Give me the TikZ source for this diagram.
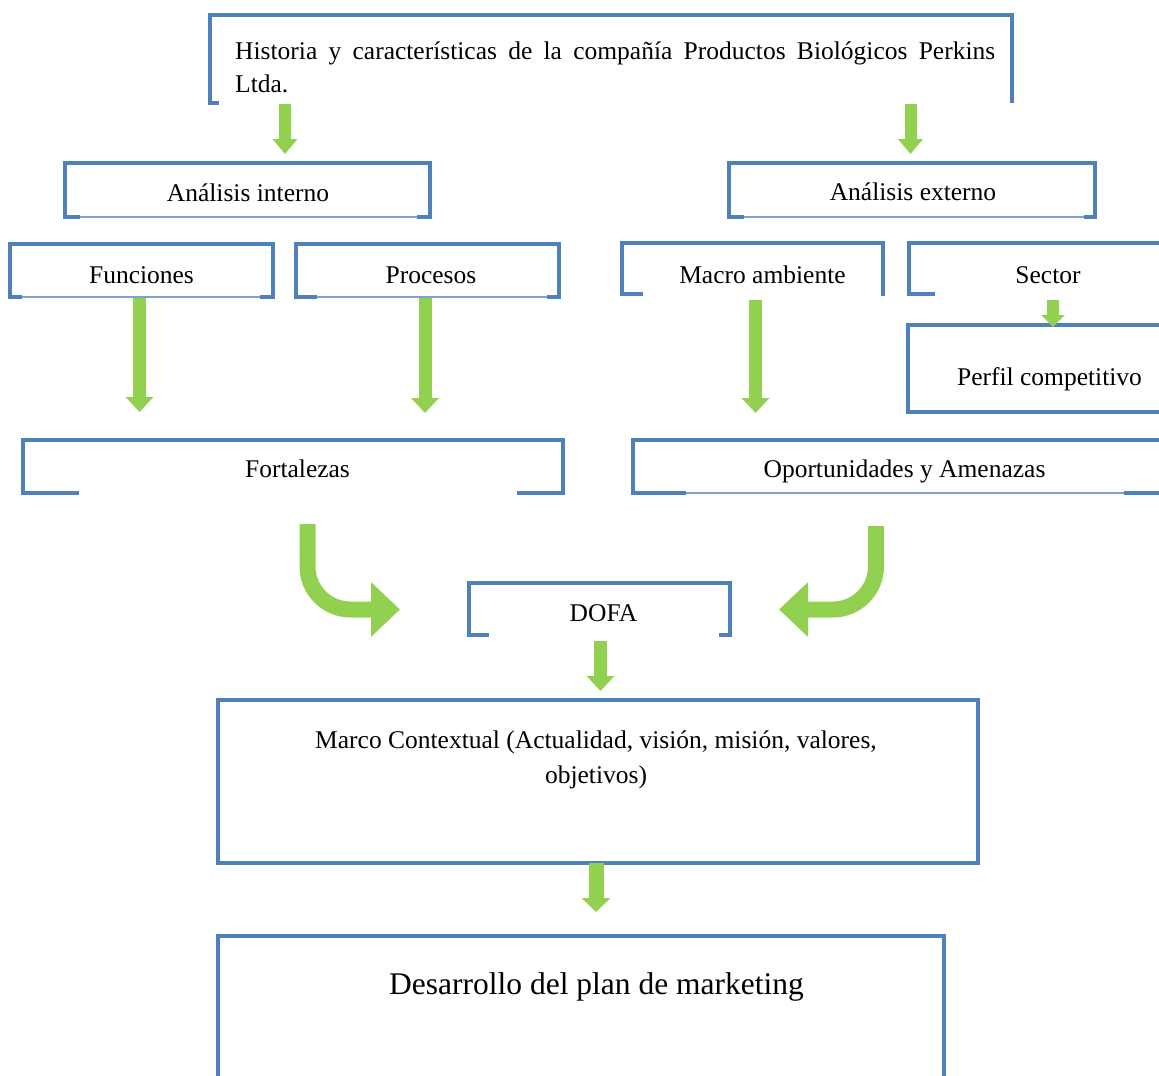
\documentclass[tikz,border=0pt]{standalone}
\usepackage{fontspec}
\setmainfont{Liberation Serif}
\usetikzlibrary{arrows.meta}
\definecolor{frameblue}{HTML}{4F81BD}
\definecolor{thinblue}{HTML}{7DA2D0}
\definecolor{arrowgreen}{HTML}{92D050}
\begin{document}
\begin{tikzpicture}[x=1pt,y=-1pt,
  frame/.style={draw=frameblue,line width=3.3pt,line join=miter},
  thinline/.style={draw=thinblue,line width=1.3pt},
  lbl/.style={anchor=base,inner sep=0pt,font=\fontsize{25.5}{33}\selectfont},
  gsmall/.style={draw=arrowgreen,line width=12pt,-{Triangle[length=15pt,width=24pt]}},
  glong/.style={draw=arrowgreen,line width=13pt,-{Triangle[length=15pt,width=27pt]}},
  gtiny/.style={draw=arrowgreen,line width=12pt,-{Triangle[length=12pt,width=23pt]}},
  gcurve/.style={draw=arrowgreen,line width=16pt,rounded corners=43pt,-{Triangle[length=29pt,width=53pt]}}
]
\useasboundingbox (0,0) rectangle (1159,1076);
\clip (0,0) rectangle (1159,1076);

% ---------- frames ----------
% Historia
\draw[frame] (219,103) -- (210,103) -- (210,15) -- (1012,15) -- (1012,103);
% Analisis interno
\draw[thinline] (80,217) -- (417,217);
\draw[frame] (80,217) -- (65,217) -- (65,163) -- (430,163) -- (430,217) -- (417,217);
% Analisis externo
\draw[thinline] (744,217) -- (1084,217);
\draw[frame] (744,217) -- (729,217) -- (729,163) -- (1095,163) -- (1095,217) -- (1084,217);
% Funciones
\draw[thinline] (22,297) -- (260,297);
\draw[frame] (22,297) -- (10,297) -- (10,244) -- (273,244) -- (273,297) -- (260,297);
% Procesos
\draw[thinline] (317,297) -- (547,297);
\draw[frame] (317,297) -- (296,297) -- (296,244) -- (559,244) -- (559,297) -- (547,297);
% Macro ambiente
\draw[frame] (643,294) -- (622,294) -- (622,243) -- (883,243) -- (883,296);
% Sector
\draw[frame] (935,294) -- (909,294) -- (909,243) -- (1170,243);
% Perfil competitivo
\draw[frame] (1170,412) -- (908,412) -- (908,325) -- (1170,325);
% Fortalezas
\draw[frame] (79,493) -- (23,493) -- (23,440) -- (563,440) -- (563,493) -- (517,493);
% Oportunidades y Amenazas
\draw[thinline] (686,493) -- (1124,493);
\draw[frame] (686,493) -- (633,493) -- (633,440) -- (1170,440);
\draw[frame] (1124,493) -- (1170,493);
% DOFA
\draw[frame] (489,635) -- (469,635) -- (469,583) -- (730,583) -- (730,635) -- (719,635);
% Marco contextual
\draw[frame] (218,700) rectangle (978,863);
% Desarrollo
\draw[frame] (218,1090) -- (218,936) -- (944,936) -- (944,1090);

% ---------- texts ----------
\node[lbl,anchor=base west] (hist) at (235,59)
  {\parbox[t]{760pt}{Historia y características de la compañía Productos Biológicos Perkins\linebreak Ltda.}};
\node[lbl] (ai) at (248,201) {Análisis interno};
\node[lbl] (ae) at (913,200) {Análisis externo};
\node[lbl] (fun) at (141.5,283) {Funciones};
\node[lbl] (pro) at (431,283) {Procesos};
\node[lbl] (mac) at (762.5,283) {Macro ambiente};
\node[lbl] (sec) at (1048,283) {Sector};
\node[lbl] (per) at (1049.5,385) {Perfil competitivo};
\node[lbl] (fort) at (297.5,477) {Fortalezas};
\node[lbl] (opo) at (904.5,477) {Oportunidades y Amenazas};
\node[lbl] (dofa) at (603.5,621) {DOFA};
\node[lbl,font=\fontsize{25.5}{35}\selectfont] (marco) at (596,748)
  {\parbox[t]{700pt}{\centering Marco Contextual (Actualidad, visión, misión, valores,\\ objetivos)}};
\node[lbl,font=\fontsize{31.5}{38}\selectfont] (des) at (596.5,994) {Desarrollo del plan de marketing};

% ---------- arrows ----------
\coordinate (h1s) at (285,104);   \coordinate (h1e) at (285,154);
\coordinate (h2s) at (910.5,104); \coordinate (h2e) at (910.5,154);
\coordinate (f1s) at (139.5,298); \coordinate (f1e) at (139.5,412);
\coordinate (p1s) at (425,298);   \coordinate (p1e) at (425,413);
\coordinate (m1s) at (755.5,300); \coordinate (m1e) at (755.5,413);
\coordinate (s1s) at (1053,300);  \coordinate (s1e) at (1053,327);
\coordinate (c1s) at (307.5,524); \coordinate (c1e) at (400,609.5);
\coordinate (c2s) at (876,526);   \coordinate (c2e) at (779,609.5);
\coordinate (d1s) at (600.5,641); \coordinate (d1e) at (600.5,691);
\coordinate (k1s) at (596,863);   \coordinate (k1e) at (596,912);

\draw[gsmall] (h1s) -- (h1e);
\draw[gsmall] (h2s) -- (h2e);
\draw[glong] (f1s) -- (f1e);
\draw[glong] (p1s) -- (p1e);
\draw[glong] (m1s) -- (m1e);
\draw[gtiny] (s1s) -- (s1e);
\draw[gcurve] (c1s) |- (c1e);
\draw[gcurve] (c2s) |- (c2e);
\draw[glong] (d1s) -- (d1e);
\draw[draw=arrowgreen,line width=15pt,-{Triangle[length=14pt,width=28pt]}] (k1s) -- (k1e);
\end{tikzpicture}
\end{document}
